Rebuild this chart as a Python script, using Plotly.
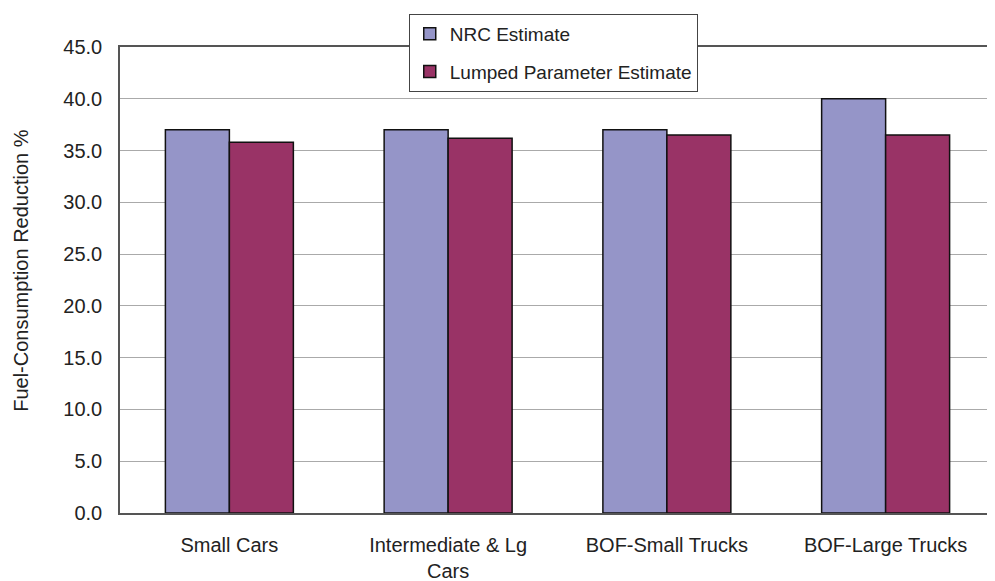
import plotly.graph_objects as go

categories = ["Small Cars", "Intermediate & Lg<br>Cars", "BOF-Small Trucks", "BOF-Large Trucks"]
nrc_estimate = [37.0, 37.0, 37.0, 40.0]
lumped_estimate = [35.8, 36.2, 36.5, 36.5]

NRC_COLOR = "#9595C8"
LUMPED_COLOR = "#993366"
FONT = "Liberation Sans, Arial, sans-serif"

fig = go.Figure()
fig.add_trace(go.Bar(
    x=categories, y=nrc_estimate, name="NRC Estimate", legendgroup="a",
    marker=dict(color=NRC_COLOR, line=dict(color="#111", width=1.5)),
))
fig.add_trace(go.Bar(
    x=categories, y=lumped_estimate, name="Lumped Parameter Estimate", legendgroup="b",
    marker=dict(color=LUMPED_COLOR, line=dict(color="#111", width=1.5)),
))

# y title as a rotated annotation so it sits far out to the left
fig.add_annotation(
    text="Fuel-Consumption Reduction %", textangle=-90,
    xref="paper", yref="paper", x=-0.113, y=0.52,
    xanchor="center", yanchor="middle", showarrow=False,
    font=dict(size=20),
)

# page body has an 8px margin, so the figure is sized to fit the window
fig.update_layout(
    width=987, height=573,
    margin=dict(l=112, r=0, t=39, b=68, autoexpand=False),
    paper_bgcolor="white", plot_bgcolor="white",
    font=dict(family=FONT, size=20, color="#222"),
    barmode="group", bargap=0.415, bargroupgap=0,
    legend=dict(
        x=0.33, y=1.071, xanchor="left", yanchor="top",
        bgcolor="white", bordercolor="#444", borderwidth=1,
        font=dict(size=19), traceorder="grouped", tracegroupgap=10,
    ),
    xaxis=dict(
        showline=True, linecolor="#555", linewidth=1.5, mirror=True,
        ticks="", ticklabelstandoff=13, showgrid=False, automargin=False,
    ),
    yaxis=dict(
        range=[0, 45], dtick=5, tickformat=".1f",
        showgrid=True, gridcolor="#aaaaaa", gridwidth=1,
        showline=True, linecolor="#555", linewidth=1.5,
        ticks="", ticklabelstandoff=12, zeroline=False, automargin=False,
    ),
)

fig.write_html("out.html")
